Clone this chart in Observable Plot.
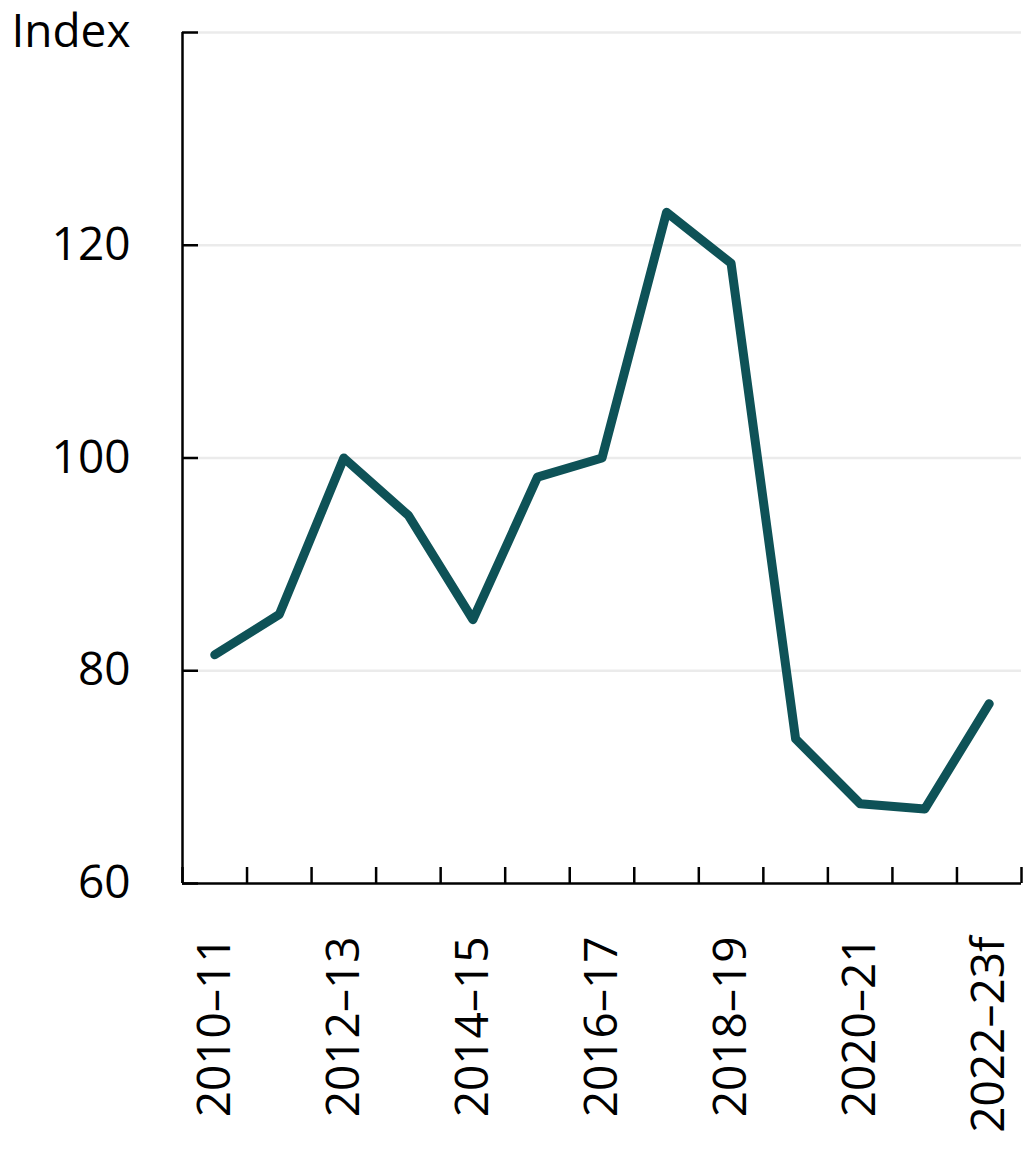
<!DOCTYPE html>
<html>
<head>
<meta charset="utf-8">
<script src="https://cdn.jsdelivr.net/npm/d3@7"></script>
<script src="https://cdn.jsdelivr.net/npm/@observablehq/plot@0.6"></script>
<style>
  html, body { margin: 0; padding: 0; background: #fff; }
  #chart svg { display: block; }
</style>
</head>
<body>
<div id="chart"></div>
<script>
const periods = ["2010–11","2011–12","2012–13","2013–14","2014–15","2015–16","2016–17","2017–18","2018–19","2019–20","2020–21","2021–22","2022–23f"];
const indexValues = [81.5, 85.3, 100.0, 94.6, 84.8, 98.2, 100.0, 123.1, 118.3, 73.6, 67.5, 67.0, 76.9];
const yTicks = [60, 80, 100, 120, 140];
const gridTicks = [80, 100, 120, 140];
const labelIdx = [0, 2, 4, 6, 8, 10, 12];
const boundaryTicks = d3.range(-0.5, 13, 1);

const data = periods.map((p, i) => ({i, period: p, value: indexValues[i]}));

const ink = "#000";
const lineColor = "#0e5257";

const chart = Plot.plot({
  width: 1035,
  height: 1155,
  marginLeft: 182,
  marginRight: 14,
  marginTop: 32,
  marginBottom: 272,
  style: {fontFamily: "'Open Sans', 'Noto Sans', sans-serif", fontSize: "46px", color: ink, background: "#fff"},
  x: {type: "linear", domain: [-0.5, 12.5], label: null},
  y: {domain: [60, 140], label: null},
  marks: [
    Plot.gridY(gridTicks, {stroke: "#ebebeb", strokeOpacity: 1, strokeWidth: 2.5}),
    Plot.axisY(yTicks, {tickSize: -16, tickFormat: () => "", strokeWidth: 2.5, stroke: ink, label: null}),
    Plot.axisY(yTicks, {tickSize: 0, tickPadding: 52, tickFormat: d => d === 140 ? "Index" : String(d), fill: ink, label: null}),
    Plot.axisX(boundaryTicks, {tickSize: -16, tickFormat: () => "", strokeWidth: 2.5, stroke: ink, label: null}),
    Plot.axisX(labelIdx, {tickSize: 0, tickPadding: 53, tickRotate: -90, tickFormat: i => periods[i], fill: ink, label: null}),
    Plot.ruleX([-0.5], {stroke: ink, strokeWidth: 2.5}),
    Plot.ruleY([60], {stroke: ink, strokeWidth: 2.5}),
    Plot.line(data, {x: "i", y: "value", stroke: lineColor, strokeWidth: 9, strokeLinecap: "round", strokeLinejoin: "round"})
  ]
});
document.getElementById("chart").appendChild(chart);
</script>
</body>
</html>
